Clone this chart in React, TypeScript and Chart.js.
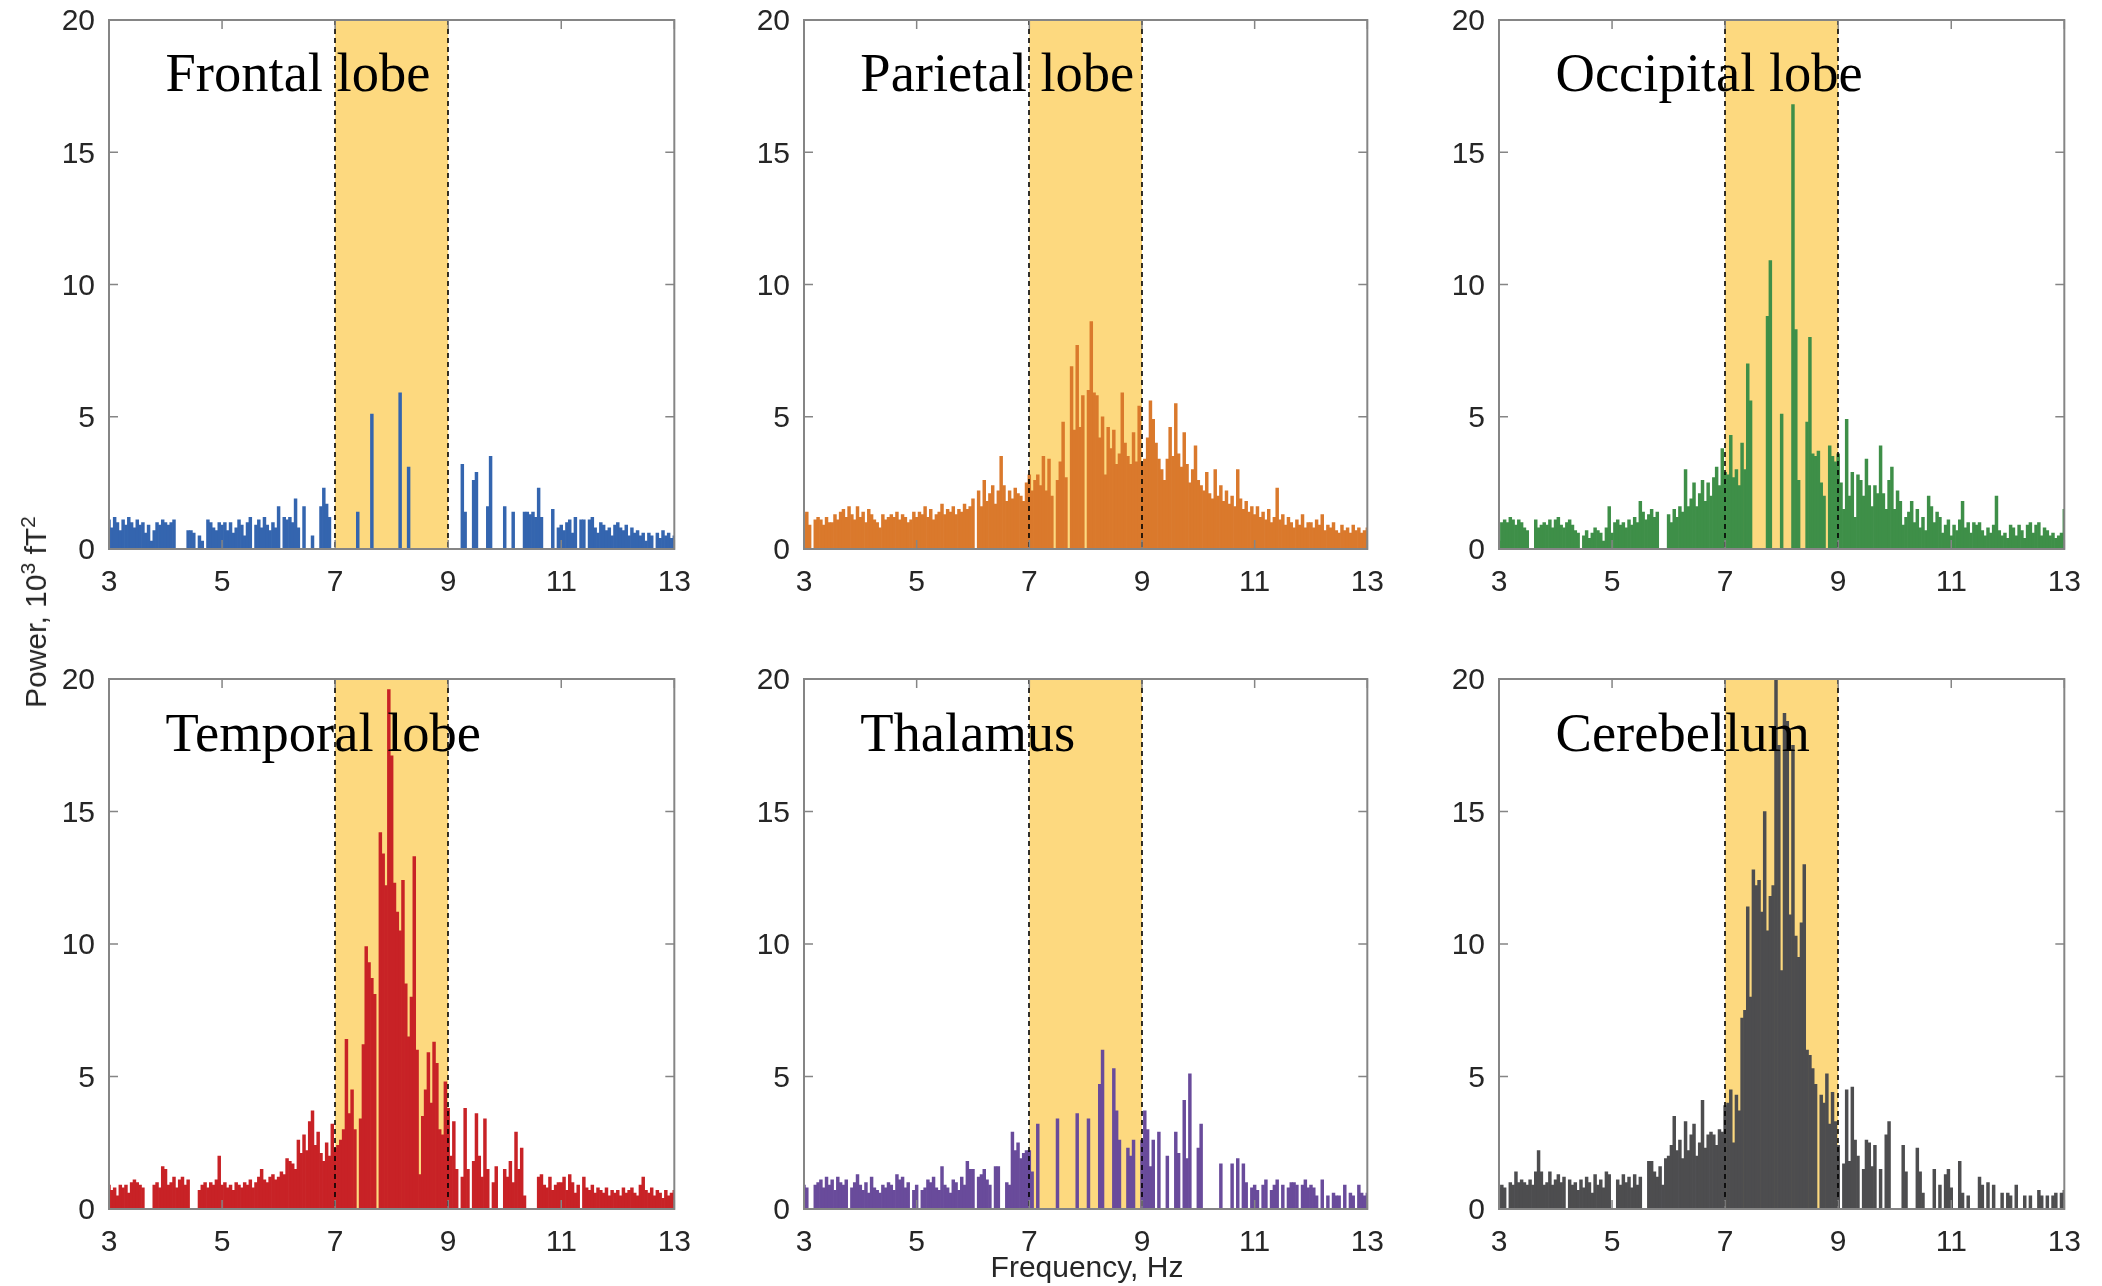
import React, { useEffect, useRef } from 'react';
import { Chart, registerables } from 'chart.js';

Chart.register(...registerables);

// ---------- data ----------
const FREQ_START = 3; // Hz, first bin
const FREQ_STEP = 0.05; // Hz, bin width
const X_TICKS = [3, 5, 7, 9, 11, 13];
const Y_TICKS = [0, 5, 10, 15, 20];
const ALPHA_BAND = [7, 9];

const frontal = [
  1.1, 0.8, 1.2, 1.0, 0.7, 1.1, 0.9, 1.2, 1.0, 0.8, 1.1, 0.9, 1.0, 0.6, 0.9, 0.3, 0.7, 1.0, 0.9, 1.1,
  1.0, 0.9, 1.0, 1.1, 0.0, 0.0, 0.0, 0.0, 0.7, 0.7, 0.6, 0.0, 0.5, 0.3, 0.0, 1.1, 1.0, 0.8, 0.7, 1.0,
  0.9, 1.0, 0.7, 1.0, 0.6, 0.8, 1.1, 0.9, 0.5, 1.0, 1.2, 0.0, 0.9, 1.1, 0.8, 1.2, 0.9, 0.7, 1.0, 0.8,
  1.6, 0.0, 1.2, 1.1, 1.2, 1.0, 1.9, 0.8, 0.0, 1.6, 0.0, 0.0, 0.5, 0.0, 0.0, 1.6, 2.3, 1.7, 1.2, 0.0,
  0, 0, 0, 0, 0, 0, 0, 0, 1.4, 0, 0, 0, 0, 5.1, 0, 0, 0, 0, 0, 0,
  0, 0, 0, 5.9, 0, 0, 3.1, 0, 0, 0, 0, 0, 0, 0, 0, 0, 0, 0, 0, 0,
  0, 0, 0, 0, 0, 3.2, 1.4, 0, 0, 2.6, 2.9, 0, 0, 0, 1.6, 3.5, 0, 0, 0, 0,
  1.6, 0, 0, 1.4, 0, 0, 0, 1.4, 1.4, 1.3, 1.4, 1.2, 2.3, 1.2, 0, 0, 0, 1.5, 0, 0.8,
  0.9, 0.7, 1.0, 1.1, 0.6, 1.2, 0.0, 1.1, 1.1, 0.0, 1.1, 1.2, 0.8, 0.6, 1.0, 0.9, 0.7, 0.8, 0.5, 0.9,
  1.0, 0.8, 0.7, 0.9, 0.5, 0.8, 0.6, 0.7, 0.5, 0.6, 0.3, 0.6, 0.5, 0.0, 0.6, 0.4, 0.7, 0.5, 0.6, 0.4, 0.5,
];

const parietal = [
  1.3, 1.4, 0.9, 0.0, 1.1, 1.2, 1.1, 0.9, 1.2, 1.0, 1.0, 1.3, 1.1, 1.4, 1.5, 1.2, 1.6, 1.3, 1.1, 1.6,
  1.2, 1.4, 1.0, 1.5, 1.3, 1.1, 1.0, 0.8, 1.3, 1.1, 1.2, 1.3, 1.2, 1.4, 1.1, 1.3, 1.2, 1.0, 1.1, 1.4,
  1.2, 1.4, 1.3, 1.6, 1.2, 1.5, 1.1, 1.3, 1.4, 1.7, 1.3, 1.5, 1.4, 1.6, 1.3, 1.5, 1.4, 1.7, 1.5, 1.6,
  1.9, 0.0, 2.2, 1.6, 2.6, 1.8, 2.1, 2.4, 1.7, 2.2, 3.5, 2.4, 1.8, 2.2, 1.9, 2.3, 2.1, 2.0, 1.8, 2.5,
  2.8, 2.2, 2.6, 2.8, 2.4, 3.5, 2.2, 3.4, 2.0, 0.0, 2.6, 3.3, 4.8, 2.7, 0.0, 6.9, 4.5, 7.7, 4.6, 5.8,
  0.0, 6.0, 8.6, 5.9, 5.8, 4.2, 5.0, 2.8, 4.6, 3.8, 4.5, 3.2, 3.6, 5.9, 4.0, 3.5, 3.2, 4.4, 3.3, 5.4,
  3.3, 3.4, 4.2, 5.6, 4.9, 4.0, 3.4, 3.0, 2.6, 3.4, 4.6, 3.5, 5.5, 3.6, 3.1, 4.4, 3.2, 2.5, 3.0, 3.9,
  2.6, 2.4, 2.2, 2.9, 2.1, 1.9, 3.0, 2.0, 2.4, 1.8, 2.2, 1.7, 2.0, 1.6, 3.0, 1.9, 1.5, 1.8, 1.4, 1.6,
  1.3, 1.6, 1.2, 1.4, 1.1, 1.5, 1.0, 1.2, 2.3, 1.1, 1.3, 0.9, 1.2, 1.0, 0.8, 1.1, 0.9, 1.3, 0.8, 1.0,
  1.0, 0.8, 1.1, 0.9, 1.3, 0.7, 0.9, 0.8, 1.0, 0.7, 0.6, 0.9, 0.7, 0.8, 0.6, 0.9, 0.7, 0.8, 0.6, 0.7, 0.8,
];

const occipital = [
  0.3, 1.0, 1.1, 1.0, 1.2, 1.1, 0.9, 1.1, 1.0, 0.8, 0.7, 0.0, 0.0, 1.1, 0.8, 0.9, 1.0, 0.9, 1.1, 0.8,
  1.1, 1.2, 0.9, 0.8, 1.0, 1.1, 0.9, 0.7, 0.6, 0.0, 0.5, 0.7, 0.4, 0.6, 0.8, 0.7, 0.6, 0.3, 0.8, 1.6,
  0.6, 1.0, 1.1, 0.9, 1.0, 0.8, 1.1, 0.9, 1.2, 1.0, 1.8, 1.4, 1.1, 1.3, 1.5, 1.2, 1.4, 0.0, 0.0, 0.0,
  1.3, 1.0, 1.5, 1.2, 1.6, 1.4, 3.0, 1.6, 1.9, 2.5, 1.6, 2.1, 2.6, 1.8, 2.5, 2.0, 2.7, 3.1, 2.4, 3.8,
  2.9, 2.8, 4.3, 2.7, 3.0, 2.4, 4.0, 3.0, 7.0, 5.6, 0.0, 0.0, 0.0, 0.0, 0.0, 8.8, 10.9, 0.0, 0.0, 0.0,
  5.1, 0.0, 0.0, 0.0, 16.8, 8.3, 2.6, 0.0, 0.0, 4.8, 8.0, 3.6, 3.5, 3.7, 2.5, 2.0, 0.0, 3.9, 3.5, 3.3,
  3.6, 2.5, 1.5, 4.9, 2.0, 2.9, 1.2, 2.8, 2.6, 2.0, 3.4, 2.4, 1.6, 2.4, 2.1, 3.9, 2.1, 1.5, 2.6, 3.1,
  1.5, 2.2, 1.8, 0.9, 1.2, 1.4, 1.8, 1.0, 1.5, 0.8, 1.2, 0.7, 2.0, 1.6, 1.0, 1.4, 1.2, 0.6, 0.9, 1.1,
  0.5, 0.9, 0.7, 1.1, 1.8, 0.8, 1.0, 0.6, 1.0, 0.9, 1.0, 0.7, 0.5, 0.8, 0.6, 0.9, 2.0, 0.7, 0.5, 0.6,
  0.4, 0.9, 0.8, 0.5, 0.9, 0.7, 0.4, 0.9, 1.0, 0.6, 0.9, 1.0, 0.5, 0.8, 0.7, 0.5, 0.6, 0.4, 0.5, 0.6, 1.5,
];

const temporal = [
  0.9, 0.7, 0.8, 0.5, 0.9, 0.8, 0.9, 0.6, 1.0, 1.1, 1.0, 0.9, 0.8, 0.0, 0.0, 0.0, 0.9, 1.0, 0.8, 1.6,
  1.5, 0.9, 1.0, 1.2, 0.8, 1.1, 1.2, 0.9, 1.1, 0.0, 0.0, 0.0, 0.7, 0.9, 1.0, 0.8, 1.0, 0.9, 1.1, 2.0,
  0.9, 1.0, 0.8, 0.9, 0.7, 1.0, 0.9, 0.8, 1.0, 0.9, 1.1, 0.8, 1.0, 1.2, 1.5, 1.1, 1.0, 1.2, 1.3, 1.1,
  1.2, 1.4, 1.3, 1.9, 1.8, 1.7, 1.5, 2.6, 2.1, 2.8, 2.2, 3.3, 3.7, 2.4, 2.9, 2.1, 1.8, 2.5, 2.0, 3.2,
  2.3, 2.4, 2.6, 3.0, 6.4, 3.6, 4.5, 3.0, 0.0, 3.4, 6.2, 9.9, 9.3, 8.7, 8.1, 0.0, 14.2, 13.4, 12.2, 19.6,
  17.1, 12.3, 11.2, 10.5, 12.4, 8.5, 6.5, 8.0, 13.3, 6.0, 1.3, 3.5, 4.5, 5.9, 4.0, 6.3, 5.5, 3.0, 2.8, 4.8,
  3.8, 2.0, 3.3, 1.5, 0.0, 1.2, 3.8, 1.5, 0.0, 1.8, 3.6, 2.0, 1.2, 3.4, 1.5, 0.0, 1.0, 1.6, 0.0, 0.0,
  1.5, 1.2, 1.8, 1.0, 2.9, 1.5, 2.3, 0.5, 0.0, 0.0, 0.0, 0.0, 1.2, 1.3, 0.9, 0.8, 1.2, 0.7, 0.9, 1.0,
  1.0, 1.2, 0.7, 1.3, 1.0, 0.6, 0.9, 0.0, 1.2, 0.8, 0.7, 0.9, 0.6, 0.8, 0.7, 0.6, 0.8, 0.5, 0.7, 0.6,
  0.7, 0.5, 0.8, 0.6, 0.7, 0.8, 0.6, 0.5, 0.9, 1.2, 0.7, 0.6, 0.8, 0.5, 0.7, 0.6, 0.4, 0.7, 0.5, 0.6, 0.7,
];

const thalamus = [
  0.9, 0.8, 0.0, 0.0, 0.9, 1.0, 1.1, 0.8, 1.2, 0.9, 1.1, 0.7, 1.2, 1.0, 0.9, 1.1, 0.0, 0.8, 1.0, 1.3,
  0.9, 0.7, 1.0, 0.6, 1.2, 0.8, 0.7, 0.6, 0.9, 0.8, 1.0, 0.9, 0.7, 1.3, 1.1, 1.2, 0.8, 1.0, 0.0, 0.7,
  0.9, 0.0, 0.7, 0.8, 1.1, 1.0, 1.2, 0.8, 0.7, 1.6, 0.9, 0.8, 0.6, 1.1, 1.0, 0.7, 1.2, 0.9, 1.8, 1.5,
  1.5, 0.0, 1.2, 1.3, 1.5, 1.1, 0.9, 0.0, 1.6, 1.6, 0.0, 0.0, 1.0, 0.9, 2.9, 2.2, 2.5, 1.9, 2.1, 2.2,
  2.2, 1.4, 0, 3.2, 0, 0, 0, 0, 0, 0, 3.4, 0, 0, 0, 0, 0, 0, 3.6, 0, 0,
  0, 3.4, 0, 0, 0, 4.7, 6.0, 0, 0, 0, 5.3, 3.7, 2.6, 0, 0, 2.3, 2.0, 2.6, 0, 0,
  2.6, 3.7, 3.0, 1.6, 2.6, 0, 2.9, 0, 0, 2.0, 0, 0, 2.9, 2.1, 0, 4.1, 1.9, 5.1, 0, 0,
  2.3, 3.2, 0, 0, 0, 0, 0, 0, 1.7, 0, 0, 0, 1.7, 0, 1.9, 0, 1.7, 1.0, 0, 0.8,
  0.9, 0.7, 0.0, 0.9, 1.1, 0.0, 0.7, 0.9, 1.1, 0.0, 0.9, 0.0, 0.8, 1.0, 1.0, 0.9, 0.0, 0.9, 1.1, 0.8,
  0.9, 0.8, 0.5, 0.0, 1.1, 0.0, 0.5, 0.0, 0.6, 0.5, 0.5, 0.0, 0.9, 0.0, 0.6, 0.5, 0.0, 0.9, 0.6, 0.5, 0.6,
];

const cerebellum = [
  0.8, 0.9, 0.8, 0.0, 1.0, 0.9, 1.4, 1.0, 1.1, 1.0, 0.9, 1.1, 0.9, 1.4, 2.2, 1.4, 0.9, 1.0, 1.4, 0.9,
  1.1, 1.3, 1.0, 1.2, 0.0, 1.1, 0.9, 1.0, 0.7, 1.1, 0.8, 1.2, 1.0, 0.6, 1.3, 0.9, 1.1, 0.8, 1.4, 1.3,
  0.0, 0.0, 1.1, 0.9, 1.3, 1.0, 1.2, 0.8, 1.3, 0.9, 1.2, 0.0, 0.0, 1.8, 1.8, 1.4, 1.2, 1.6, 0.9, 1.9,
  2.0, 2.4, 3.5, 2.2, 2.6, 1.9, 3.3, 2.2, 2.8, 3.2, 2.0, 2.5, 4.1, 2.3, 2.8, 2.9, 2.8, 2.4, 3.0, 2.9,
  3.9, 4.0, 4.5, 2.5, 4.3, 3.7, 7.2, 7.5, 11.4, 8.0, 12.8, 12.2, 12.4, 11.2, 15.0, 10.5, 11.8, 12.2, 20.0, 17.5,
  9.0, 18.7, 18.4, 11.1, 17.5, 10.3, 9.5, 10.8, 13.0, 6.0, 5.8, 5.3, 4.7, 0.0, 4.3, 4.0, 5.1, 3.2, 4.4, 3.3,
  2.4, 0.0, 1.7, 4.5, 1.8, 4.6, 2.6, 2.0, 0.0, 1.5, 2.6, 2.5, 1.6, 2.4, 0.0, 1.5, 0.0, 2.8, 3.3, 0.0,
  0.0, 0.0, 0.0, 2.4, 1.4, 0.0, 0.0, 0.0, 2.3, 1.4, 0.6, 0.0, 0.0, 0.0, 1.5, 0.0, 0.9, 0.0, 1.3, 1.5,
  0.8, 0.0, 0.0, 1.8, 0.6, 0.0, 0.5, 0.0, 0.0, 0.0, 1.2, 0.9, 0.0, 1.0, 0.0, 0.9, 0.0, 0.0, 0.6, 0.0,
  0.6, 0.5, 0.0, 0.9, 0.0, 0.0, 0.5, 0.0, 0.5, 0.0, 0.0, 0.7, 0.5, 0.0, 0.5, 0.0, 0.5, 0.6, 0.0, 0.6, 0.7,
];

const REGION_TITLES = ['Frontal lobe', 'Parietal lobe', 'Occipital lobe', 'Temporal lobe', 'Thalamus', 'Cerebellum'];
const REGION_VALUES = [frontal, parietal, occipital, temporal, thalamus, cerebellum];

// ---------- styles & layout ----------
const REGION_COLORS = ['#3465AF', '#DA792C', '#3E8F48', '#C82226', '#694B9B', '#4D4D4F'];
const BAND_COLOR = '#FDD97F';
const FRAME_COLOR = '#858585';
const TEXT_COLOR = '#262626';
const SANS = '"Liberation Sans", Arial, Helvetica, sans-serif';
const SERIF = '"Liberation Serif", "Times New Roman", serif';
const LABEL_POS = { x: 4.0, y: 17.3 }; // data coords of panel title baseline-left

const COLS = [
  { left: 109, width: 568 },
  { left: 804, width: 566 },
  { left: 1499, width: 568 },
];
const ROWS = [
  { top: 18, height: 531 },
  { top: 677, height: 532 },
];
const AX_W = 80;
const AX_H = 70;
const PAD_T = 30;
const PAD_R = 30;
const TICK_LEN = 9;

function makeDecor(title: string) {
  return {
    id: 'decor',
    beforeDatasetsDraw(chart: any) {
      const { ctx, chartArea: a, scales } = chart;
      const x = scales.x;
      const x0 = x.getPixelForValue(ALPHA_BAND[0]);
      const x1 = x.getPixelForValue(ALPHA_BAND[1]);
      ctx.save();
      ctx.fillStyle = BAND_COLOR;
      ctx.fillRect(x0, a.top, x1 - x0, a.bottom - a.top);
      ctx.restore();
    },
    afterDatasetsDraw(chart: any) {
      const { ctx, chartArea: a, scales } = chart;
      const x = scales.x;
      const y = scales.y;
      ctx.save();
      // dashed band borders
      ctx.strokeStyle = '#000';
      ctx.lineWidth = 1.6;
      ctx.setLineDash([5, 4]);
      for (const b of ALPHA_BAND) {
        const px = Math.round(x.getPixelForValue(b));
        ctx.beginPath();
        ctx.moveTo(px, a.top);
        ctx.lineTo(px, a.bottom);
        ctx.stroke();
      }
      ctx.setLineDash([]);
      // frame
      ctx.strokeStyle = FRAME_COLOR;
      ctx.lineWidth = 2;
      ctx.strokeRect(a.left, a.top, a.right - a.left, a.bottom - a.top);
      // inner ticks
      ctx.lineWidth = 1.5;
      ctx.beginPath();
      for (const t of X_TICKS) {
        const px = x.getPixelForValue(t);
        ctx.moveTo(px, a.bottom);
        ctx.lineTo(px, a.bottom - TICK_LEN);
        ctx.moveTo(px, a.top);
        ctx.lineTo(px, a.top + TICK_LEN);
      }
      for (const t of Y_TICKS) {
        const py = y.getPixelForValue(t);
        ctx.moveTo(a.left, py);
        ctx.lineTo(a.left + TICK_LEN, py);
        ctx.moveTo(a.right, py);
        ctx.lineTo(a.right - TICK_LEN, py);
      }
      ctx.stroke();
      // title
      ctx.fillStyle = '#000';
      ctx.font = `54.5px ${SERIF}`;
      ctx.textAlign = 'left';
      ctx.textBaseline = 'alphabetic';
      ctx.fillText(title, x.getPixelForValue(LABEL_POS.x), y.getPixelForValue(LABEL_POS.y));
      ctx.restore();
    },
  };
}

function Panel({ idx }: { idx: number }) {
  const ref = useRef<HTMLCanvasElement | null>(null);
  const col = COLS[idx % 3];
  const row = ROWS[Math.floor(idx / 3)];
  const cw = col.width + AX_W + PAD_R;
  const ch = row.height + PAD_T + AX_H;

  useEffect(() => {
    if (!ref.current) return;
    const values = REGION_VALUES[idx];
    const chart = new Chart(ref.current, {
      type: 'bar',
      data: {
        datasets: [
          {
            data: values.map((v, i) => ({ x: FREQ_START + i * FREQ_STEP, y: v })),
            backgroundColor: REGION_COLORS[idx],
            borderWidth: 0,
            barPercentage: 1,
            categoryPercentage: 1,
          } as any,
        ],
      },
      options: {
        animation: false,
        responsive: false,
        devicePixelRatio: 1,
        layout: { padding: { left: 0, top: PAD_T, right: PAD_R, bottom: 0 } },
        plugins: { legend: { display: false }, tooltip: { enabled: false } },
        scales: {
          x: {
            type: 'linear',
            min: X_TICKS[0],
            max: X_TICKS[X_TICKS.length - 1],
            offset: false,
            afterBuildTicks: (s: any) => {
              s.ticks = X_TICKS.map((v) => ({ value: v }));
            },
            afterFit: (s: any) => {
              s.height = AX_H;
            },
            ticks: {
              font: { family: SANS, size: 30 },
              color: TEXT_COLOR,
              padding: 16,
              maxRotation: 0,
              autoSkip: false,
            },
            grid: { display: false, drawTicks: false },
            border: { display: false },
          },
          y: {
            type: 'linear',
            min: Y_TICKS[0],
            max: Y_TICKS[Y_TICKS.length - 1],
            afterBuildTicks: (s: any) => {
              s.ticks = Y_TICKS.map((v) => ({ value: v }));
            },
            afterFit: (s: any) => {
              s.width = AX_W;
            },
            ticks: {
              font: { family: SANS, size: 30 },
              color: TEXT_COLOR,
              padding: 14,
              labelOffset: 2,
              autoSkip: false,
            },
            grid: { display: false, drawTicks: false },
            border: { display: false },
          },
        },
      } as any,
      plugins: [makeDecor(REGION_TITLES[idx])],
    });
    return () => chart.destroy();
  }, [idx]);

  return (
    <canvas
      ref={ref}
      width={cw}
      height={ch}
      style={{
        position: 'absolute',
        left: col.left - AX_W,
        top: row.top - PAD_T,
        width: cw,
        height: ch,
      }}
    />
  );
}

export default function App() {
  return (
    <div
      style={{
        position: 'absolute',
        left: 0,
        top: 0,
        width: 2102,
        height: 1286,
        background: '#fff',
        overflow: 'hidden',
      }}
    >
      {REGION_TITLES.map((_, i) => (
        <Panel key={i} idx={i} />
      ))}
      <div
        style={{
          position: 'absolute',
          left: 36,
          top: 612,
          transform: 'translate(-50%, -50%) rotate(-90deg)',
          whiteSpace: 'nowrap',
          fontFamily: SANS,
          fontSize: 30,
          lineHeight: '34px',
          color: TEXT_COLOR,
        }}
      >
        Power, 10<sup style={{ fontSize: '0.7em', verticalAlign: 'super', lineHeight: 0 }}>3</sup> fT
        <sup style={{ fontSize: '0.7em', verticalAlign: 'super', lineHeight: 0 }}>2</sup>
      </div>
      <div
        style={{
          position: 'absolute',
          left: 1087,
          top: 1250,
          transform: 'translateX(-50%)',
          whiteSpace: 'nowrap',
          fontFamily: SANS,
          fontSize: 30,
          lineHeight: '34px',
          color: TEXT_COLOR,
        }}
      >
        Frequency, Hz
      </div>
    </div>
  );
}
